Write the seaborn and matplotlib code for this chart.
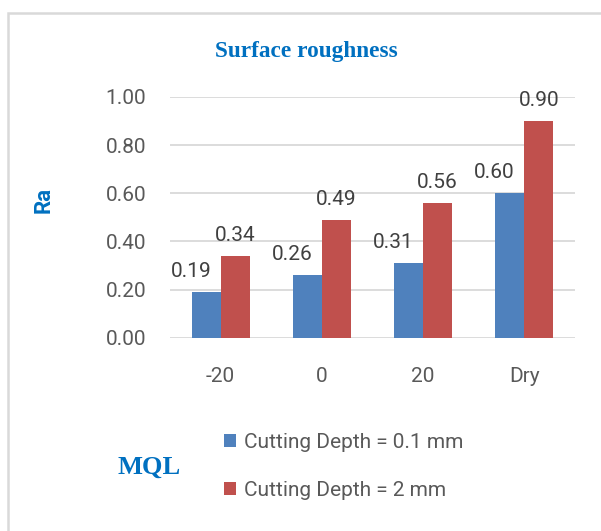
import matplotlib
matplotlib.use("Agg")
import matplotlib.pyplot as plt
import seaborn as sns
import pandas as pd
from matplotlib.patches import Rectangle, Patch

categories = ["-20", "0", "20", "Dry"]
series_names = ["Cutting Depth = 0.1 mm", "Cutting Depth = 2 mm"]
depth_01 = [0.19, 0.26, 0.31, 0.60]
depth_2 = [0.34, 0.49, 0.56, 0.90]
yticks = [0.0, 0.2, 0.4, 0.6, 0.8, 1.0]

colors = ["#4F81BD", "#C0504D"]
grey = "#595959"
blue_txt = "#0070C0"

df = pd.DataFrame({
    "MQL": categories * 2,
    "Ra": depth_01 + depth_2,
    "Series": [series_names[0]] * 4 + [series_names[1]] * 4,
})

sns.set_theme(style="white")
plt.rcParams["font.family"] = ["Roboto", "DejaVu Sans"]

fig = plt.figure(figsize=(6.01, 5.31), dpi=100)
ax = fig.add_axes([170 / 601, 1 - 337.7 / 531, 405 / 601, (337.7 - 97) / 531])

sns.barplot(data=df, x="MQL", y="Ra", hue="Series", order=categories,
            hue_order=series_names, palette=colors, width=0.575, gap=0,
            saturation=1, ax=ax, legend=False, edgecolor="none", zorder=3)

ax.set_ylim(0, 1.0)
ax.set_yticks(yticks)
ax.set_yticklabels([f"{v:.2f}" for v in yticks])
ax.yaxis.grid(True, color="#D9D9D9", linewidth=1.3, zorder=0)
ax.set_axisbelow(True)
for s in ax.spines.values():
    s.set_visible(False)
ax.tick_params(axis="y", length=0, pad=17, labelsize=15, labelcolor=grey)
ax.tick_params(axis="x", length=0, pad=21, labelsize=15, labelcolor=grey)
ax.set_xlabel("")
ax.set_ylabel("")
ax.set_xlim(-0.5, 3.5)

# data labels
for ci, cont in enumerate(ax.containers):
    dx = -11 if ci == 0 else 0
    for bar, v in zip(cont, [depth_01, depth_2][ci]):
        ax.annotate(f"{v:.2f}", (bar.get_x() + bar.get_width() / 2, bar.get_height()),
                    xytext=(dx, 8), textcoords="offset points", ha="center", va="bottom",
                    fontsize=15, color="#404040", zorder=5, annotation_clip=False)

# titles
fig.text(306 / 601, 1 - 51 / 531, "Surface roughness", ha="center", va="center",
         fontsize=16.8, fontweight="bold", color=blue_txt, family="Liberation Serif")
fig.text(44 / 601, 1 - 200 / 531, "Ra", ha="center", va="center", rotation=90,
         fontsize=16, fontweight="bold", color=blue_txt)
fig.text(149 / 601, 1 - 467 / 531, "MQL", ha="center", va="center",
         fontsize=19, fontweight="bold", color=blue_txt, family="Liberation Serif")

handles = [Patch(facecolor=c, edgecolor="none") for c in colors]
leg = fig.legend(handles, series_names, loc="upper left",
                 bbox_to_anchor=(205 / 601, 1 - 414 / 531), frameon=False,
                 handlelength=0.6, handleheight=0.6, handletextpad=0.35,
                 labelspacing=1.4, fontsize=15)
for t in leg.get_texts():
    t.set_color(grey)

# outer border
fig.patches.append(Rectangle((8 / 601, -0.05), 1.2, 1 - 13 / 531 + 0.05,
                             transform=fig.transFigure, fill=False,
                             edgecolor="#D9D9D9", linewidth=1.8, zorder=0))

fig.savefig("out.png", dpi=100)
